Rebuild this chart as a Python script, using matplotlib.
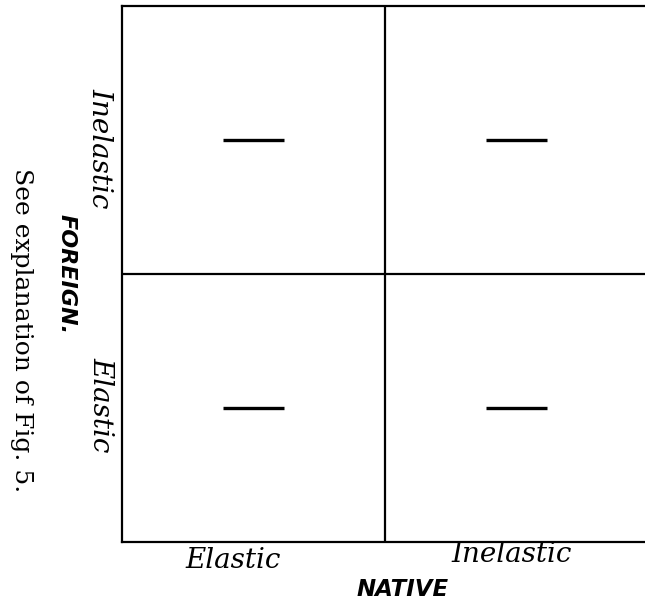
import matplotlib
matplotlib.use("Agg")
from matplotlib import pyplot as plt

# categories along each side of the table
native = ["Elastic", "Inelastic"]
foreign = ["Elastic", "Inelastic"]
# every cell holds the same short dash (value 0 = centre of the cell)
dash_offset = [[0.0, 0.0], [0.0, 0.0]]  # rows: foreign, cols: native

note = "See explanation of Fig. 5."
x_title = "NATIVE"
y_title = "FOREIGN."


def main():
    fig = plt.figure(figsize=(6.45, 6.03), dpi=100)
    W, H = 645, 603
    left, top, right, bottom = 122, 6, 648, 542
    ax = fig.add_axes([left / W, 1 - bottom / H, (right - left) / W, (bottom - top) / H])
    ax.set_xlim(0, len(native))
    ax.set_ylim(0, len(foreign))
    for s in ax.spines.values():
        s.set_linewidth(1.6)
        s.set_color("black")
    ax.set_xticks([])
    ax.set_yticks([])

    # the dividing lines of the table
    ax.axvline(1, color="black", lw=1.6)
    ax.axhline(1, color="black", lw=1.6)

    # the dashes in each cell
    for i, f in enumerate(foreign):
        for j, n in enumerate(native):
            y = i + 0.5 + dash_offset[i][j]
            ax.hlines(y, j + 0.385, j + 0.615, color="black", lw=2.4)

    serif_it = dict(family="DejaVu Serif", style="italic", fontsize=20)
    # labels under the columns
    ax.text(233 / W, 1 - 560 / H, native[0], ha="center", va="center",
            transform=fig.transFigure, **serif_it)
    ax.text(512 / W, 1 - 554 / H, native[1], ha="center", va="center",
            transform=fig.transFigure, **serif_it)
    # labels beside the rows
    ax.text(101 / W, 1 - 405 / H, foreign[0], ha="center", va="center", rotation=-90,
            transform=fig.transFigure, **serif_it)
    ax.text(100 / W, 1 - 148 / H, foreign[1], ha="center", va="center", rotation=-90,
            transform=fig.transFigure, **serif_it)

    fig.text(403 / W, 1 - 589 / H, x_title, ha="center", va="center",
             family="DejaVu Sans", style="oblique", weight="bold", fontsize=16.5)
    fig.text(67 / W, 1 - 274 / H, y_title, ha="center", va="center", rotation=-90,
             family="DejaVu Sans", style="oblique", weight="bold", fontsize=16)
    fig.text(21 / W, 1 - 330 / H, note, ha="center", va="center", rotation=-90,
             family="DejaVu Serif", fontsize=18)

    fig.savefig("out.png", dpi=100)
    plt.close(fig)


if __name__ == "__main__":
    main()
